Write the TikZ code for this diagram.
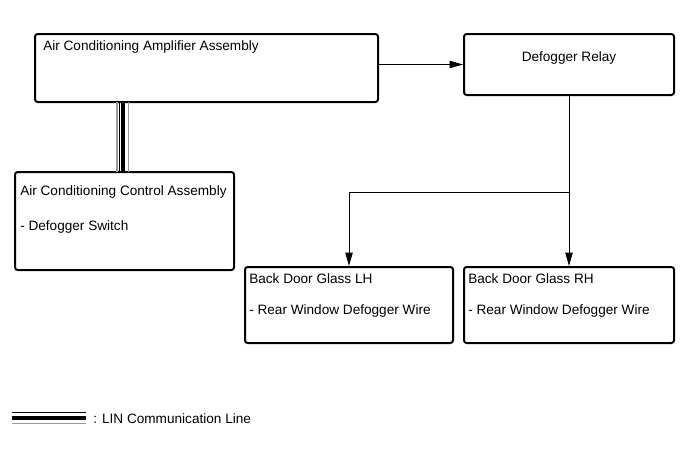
\documentclass[tikz,border=0pt]{standalone}
\usepackage{fontspec}
\setmainfont{Liberation Sans}
\usepackage{tikz}
\usetikzlibrary{arrows.meta,positioning,fit,calc}
\tikzset{
  unitbox/.style={draw=black, line width=1.5pt, rounded corners=2pt, inner sep=0pt},
  boxtext/.style={font=\fontsize{10.2}{12}\selectfont, anchor=west, inner sep=0pt},
  signal/.style={-{Triangle[length=10pt,width=5.5pt]}, line width=0.75pt, draw=black},
  linblack/.style={line width=0.75pt, draw=black},
  linheavy/.style={line width=3.2pt, draw=black},
  lingray/.style={line width=1.2pt, draw=black!40}
}

\begin{document}
\begin{tikzpicture}[x=0.75pt, y=-0.75pt]
  \useasboundingbox (0,0) rectangle (691,465);
  % units
  \node[unitbox, fit={(35,34) (378,102)}] (amp) {};
  \node[unitbox, fit={(464,34) (674,95)}] (relay) {};
  \node[unitbox, fit={(15,172) (234,270)}] (ctrl) {};
  \node[unitbox, fit={(245,267) (453,343)}] (glasslh) {};
  \node[unitbox, fit={(464,267) (674,343)}] (glassrh) {};
  % texts
  \node[boxtext] (amptext) at (43,47) {Air Conditioning Amplifier Assembly};
  \node[boxtext, anchor=center] (relaytext) at (569,58) {Defogger Relay};
  \node[boxtext] (ctrltext) at (20,192) {Air Conditioning Control Assembly};
  \node[boxtext] (switchtext) at (20,227) {- Defogger Switch};
  \node[boxtext] (lhtext) at (249,279) {Back Door Glass LH};
  \node[boxtext] (lhwire) at (249,311) {- Rear Window Defogger Wire};
  \node[boxtext] (rhtext) at (468,279) {Back Door Glass RH};
  \node[boxtext] (rhwire) at (468,311) {- Rear Window Defogger Wire};
  % signal lines
  \draw[signal] (amp.east |- relay.west) -- (relay.west);
  \coordinate (split) at (569,192);
  \draw[signal] (relay.south) -- (glassrh.north);
  \draw[signal] (split) -| (glasslh.north);
  % LIN line
  \coordinate (lintop) at (122,102);
  \coordinate (linbot) at (122,172);
  \draw[lingray] ([xshift=-3.7pt]lintop) -- ([xshift=-3.7pt]linbot);
  \draw[linblack] ([xshift=-2.2pt]lintop) -- ([xshift=-2.2pt]linbot);
  \draw[linheavy] ([xshift=0.9pt]lintop) -- ([xshift=0.9pt]linbot);
  \draw[lingray] ([xshift=4.8pt]lintop) -- ([xshift=4.8pt]linbot);
  % legend
  \coordinate (legl) at (12,418);
  \coordinate (legr) at (86,418);
  \draw[linblack] ([yshift=4.5pt]legl) -- ([yshift=4.5pt]legr);
  \draw[linheavy] (legl) -- (legr);
  \draw[lingray] ([yshift=-4pt]legl) -- ([yshift=-4pt]legr);
  \node[boxtext] (legtext) at (93,419) {: LIN Communication Line};
\end{tikzpicture}
\end{document}
